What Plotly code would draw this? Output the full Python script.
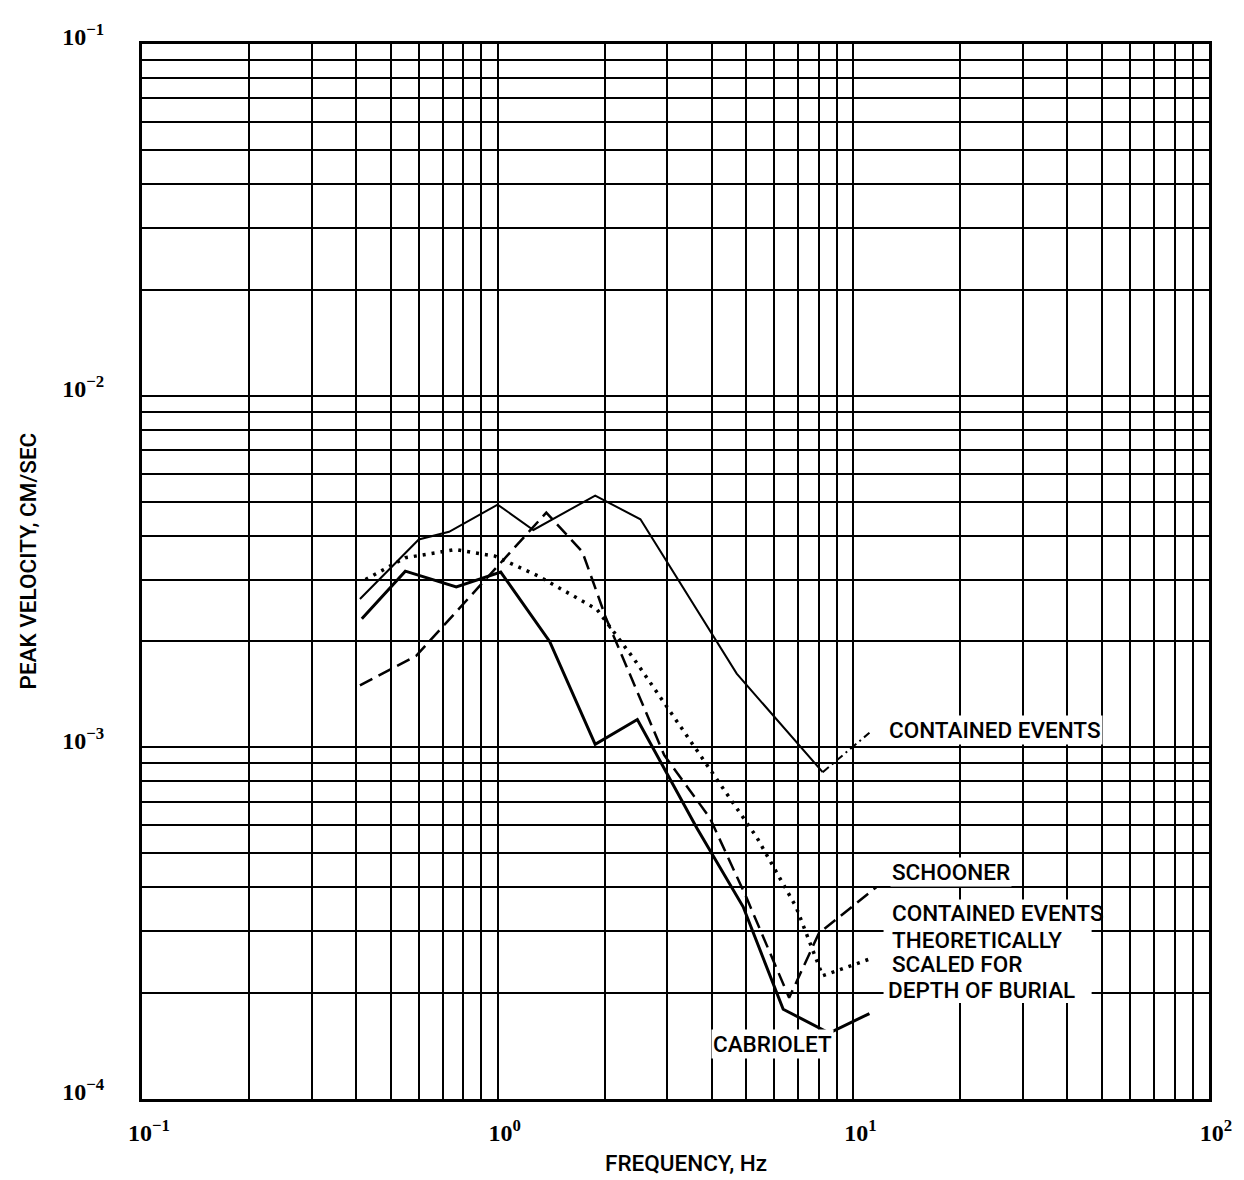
import math
import plotly.graph_objects as go

# Data (frequency in Hz, peak velocity in cm/sec)
contained_f = [0.41, 0.60, 0.73, 1.0, 1.26, 1.88, 2.52, 4.7, 8.2, 11.1]
contained_v = [2.64e-3, 3.9e-3, 4.1e-3, 4.9e-3, 4.15e-3, 5.2e-3, 4.45e-3, 1.62e-3, 8.5e-4, 1.1e-3]

cabriolet_f = [0.415, 0.55, 0.765, 1.02, 1.4, 1.88, 2.47, 3.63, 4.9, 6.35, 8.55, 11.1]
cabriolet_v = [2.32e-3, 3.17e-3, 2.86e-3, 3.15e-3, 2.0e-3, 1.02e-3, 1.2e-3, 5.9e-4, 3.52e-4, 1.8e-4, 1.54e-4, 1.75e-4]

schooner_f = [0.41, 0.59, 1.37, 1.73, 2.02, 2.94, 3.95, 5.0, 6.6, 8.0, 11.6]
schooner_v = [1.5e-3, 1.82e-3, 4.65e-3, 3.6e-3, 2.32e-3, 9.5e-4, 6.3e-4, 3.75e-4, 1.94e-4, 2.96e-4, 4.0e-4]

scaled_f = [0.425, 0.55, 0.76, 0.98, 1.3, 1.9, 2.42, 5.35, 6.9, 8.2, 11.1]
scaled_v = [3.0e-3, 3.46e-3, 3.65e-3, 3.5e-3, 3.07e-3, 2.47e-3, 1.78e-3, 5.55e-4, 3.52e-4, 2.24e-4, 2.5e-4]

x_tickvals = [0.1, 1, 10, 100]
x_ticktext = ["10<sup>−1</sup>", "10<sup>0</sup>", "10<sup>1</sup>", "10<sup>2</sup>"]
y_tickvals = [1e-4, 1e-3, 1e-2, 1e-1]
y_ticktext = ["10<sup>−4</sup>", "10<sup>−3</sup>", "10<sup>−2</sup>", "10<sup>−1</sup>"]

# single-line labels (drawn with white background)
labels = [
    ("CONTAINED EVENTS", 12.47, 1.117e-3, "left"),
    ("SCHOONER", 12.65, 4.42e-4, "left"),
    ("CABRIOLET", 5.94, 1.43e-4, "center"),
]
# four-line label block (white box drawn behind it)
block_labels = [
    ("CONTAINED EVENTS", 12.65, 3.39e-4),
    ("THEORETICALLY", 12.65, 2.84e-4),
    ("SCALED FOR", 12.65, 2.42e-4),
    ("DEPTH OF BURIAL", 12.33, 2.04e-4),
]

minor_x = [m * 10.0 ** d for d in (-1, 0, 1) for m in range(2, 10)]
minor_y = [m * 10.0 ** d for d in (-4, -3, -2) for m in range(2, 10)]

LABEL_FONT = "Roboto, Liberation Sans, sans-serif"
TICK_FONT = "Liberation Serif, DejaVu Serif, serif"
LABEL_SIZE = 22.5

fig = go.Figure()
fig.add_trace(go.Scatter(x=contained_f[:-1], y=contained_v[:-1], mode="lines",
                         line=dict(color="black", width=2)))
fig.add_trace(go.Scatter(x=contained_f[-2:], y=contained_v[-2:], mode="lines",
                         line=dict(color="black", width=2, dash="8px,4px,2px,4px")))
fig.add_trace(go.Scatter(x=schooner_f, y=schooner_v, mode="lines",
                         line=dict(color="black", width=2.5, dash="14px,7px")))
fig.add_trace(go.Scatter(x=scaled_f, y=scaled_v, mode="lines",
                         line=dict(color="black", width=3.5, dash="3px,6px")))
fig.add_trace(go.Scatter(x=cabriolet_f, y=cabriolet_v, mode="lines",
                         line=dict(color="black", width=3)))

label_font = dict(family=LABEL_FONT, size=LABEL_SIZE, color="black", weight=500)

for text, fx, fy, align in labels:
    fig.add_annotation(x=math.log10(fx), y=math.log10(fy), xref="x", yref="y",
                       text=text, showarrow=False, xanchor=align, yanchor="middle",
                       bgcolor="white", borderpad=1, font=label_font)

fig.add_shape(type="rect", xref="paper", yref="paper",
              x0=0.695, x1=0.890, y0=0.091, y1=0.189,
              fillcolor="white", line=dict(width=0), layer="above")
for text, fx, fy in block_labels:
    fig.add_annotation(x=math.log10(fx), y=math.log10(fy), xref="x", yref="y",
                       text=text, showarrow=False, xanchor="left", yanchor="middle",
                       font=label_font)

fig.add_annotation(x=-0.1073, y=0.51, xref="paper", yref="paper",
                   text="PEAK VELOCITY, CM/SEC", textangle=-90, showarrow=False,
                   xanchor="center", yanchor="middle", font=label_font)
fig.add_annotation(x=0.51, y=-0.061, xref="paper", yref="paper",
                   text="FREQUENCY, Hz", showarrow=False,
                   xanchor="center", yanchor="middle", font=label_font)

axis_common = dict(
    type="log", showgrid=True, gridcolor="black", gridwidth=2,
    showline=True, linecolor="black", linewidth=3, mirror=True,
    ticks="", zeroline=False,
    tickfont=dict(family=TICK_FONT, size=24, color="black", weight="bold"),
)
fig.update_xaxes(**axis_common, range=[-1, 2], tickmode="array",
                 tickvals=x_tickvals, ticktext=x_ticktext,
                 ticklabelstandoff=10, ticklabelshift=7,
                 minor=dict(tickmode="array", tickvals=minor_x, showgrid=True,
                            gridcolor="black", gridwidth=2, ticks=""))
fig.update_yaxes(**axis_common, range=[-4, -1], tickmode="array",
                 tickvals=y_tickvals, ticktext=y_ticktext,
                 ticklabelstandoff=30, ticklabelshift=-7,
                 minor=dict(tickmode="array", tickvals=minor_y, showgrid=True,
                            gridcolor="black", gridwidth=2, ticks=""))

fig.update_layout(width=1236, height=1172, showlegend=False,
                  paper_bgcolor="white", plot_bgcolor="white",
                  margin=dict(l=134, r=30, t=26, b=81))

fig.write_html("out.html")
